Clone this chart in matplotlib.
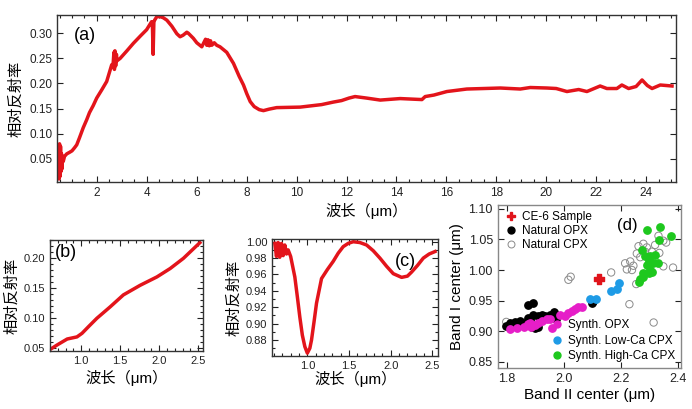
import numpy as np
import matplotlib
matplotlib.use('Agg')
import matplotlib.pyplot as plt
from matplotlib.ticker import MultipleLocator, FormatStrFormatter
from matplotlib.lines import Line2D

plt.rcParams['font.family'] = ['Liberation Sans', 'Noto Sans CJK SC', 'DejaVu Sans']
plt.rcParams['axes.unicode_minus'] = False

RED = '#e3141b'

# (a) 全波段光谱
wave_a = [0.42, 0.45, 0.48, 0.50, 0.52, 0.54, 0.56, 0.58, 0.60, 0.62, 0.65, 0.70, 0.79, 0.90, 1.00, 1.10,
          1.19, 1.30, 1.45, 1.59, 1.70, 1.85, 1.99, 2.20, 2.39, 2.59, 2.65, 2.68, 2.70, 2.72, 2.75,
          2.78, 2.80, 2.93, 3.20, 3.46, 3.75, 3.99,
          4.19, 4.22, 4.25, 4.28, 4.31, 4.40, 4.53, 4.65, 4.80, 5.00, 5.20, 5.33, 5.45, 5.60, 5.66,
          5.80, 5.86, 6.00, 6.20, 6.35, 6.40, 6.45, 6.50, 6.55, 6.60, 6.70, 6.80, 6.93, 7.20,
          7.47, 7.70, 7.87, 8.00, 8.14, 8.30, 8.50, 8.67, 8.90, 9.20, 10.14,
          11.00, 11.47, 11.80, 12.10, 12.34, 12.80, 13.35, 14.15, 15.02, 15.15, 15.50, 16.02, 16.82,
          17.50, 18.16, 18.96, 19.36, 20.03, 20.40, 20.83, 21.30, 21.63, 22.16, 22.43, 22.83, 23.03,
          23.30, 23.60, 23.84, 24.05, 24.24, 24.57, 25.04]
refl_a = [0.020, 0.060, 0.010, 0.080, 0.015, 0.075, 0.025, 0.060, 0.030, 0.055, 0.045, 0.055, 0.060, 0.063, 0.066, 0.072,
          0.078, 0.092, 0.112, 0.128, 0.142, 0.156, 0.171, 0.188, 0.204, 0.237, 0.240, 0.262, 0.228, 0.265, 0.235,
          0.258, 0.245, 0.250, 0.265, 0.280, 0.295, 0.307,
          0.323, 0.320, 0.258, 0.322, 0.326, 0.333, 0.333, 0.331, 0.326, 0.314, 0.299, 0.293, 0.296, 0.302, 0.300,
          0.293, 0.290, 0.281, 0.273, 0.288, 0.276, 0.287, 0.275, 0.285, 0.276, 0.281, 0.276, 0.273, 0.262,
          0.240, 0.214, 0.197, 0.180, 0.164, 0.154, 0.148, 0.146, 0.149, 0.152, 0.153,
          0.158, 0.163, 0.166, 0.171, 0.174, 0.171, 0.167, 0.170, 0.168, 0.174, 0.177, 0.184, 0.189,
          0.190, 0.191, 0.189, 0.192, 0.191, 0.190, 0.184, 0.188, 0.184, 0.195, 0.190, 0.190, 0.197,
          0.190, 0.194, 0.207, 0.196, 0.190, 0.197, 0.195]

# (b) 可见-近红外光谱
wave_b = [0.60, 0.69, 0.82, 0.945, 1.01, 1.10, 1.20, 1.37, 1.54, 1.755, 1.97, 2.14, 2.31, 2.52]
refl_b = [0.048, 0.0555, 0.0655, 0.069, 0.075, 0.087, 0.100, 0.119, 0.139, 0.155, 0.169, 0.183, 0.200, 0.226]

# (c) 去连续统光谱
wave_c = [0.61, 0.63, 0.65, 0.67, 0.69, 0.71, 0.73, 0.75, 0.77, 0.80, 0.85, 0.88, 0.91, 0.94, 0.97, 1.00,
          1.03, 1.05, 1.08, 1.11, 1.17, 1.24, 1.31, 1.37, 1.43, 1.49, 1.55, 1.63, 1.71, 1.79, 1.87,
          1.95, 2.03, 2.13, 2.20, 2.25, 2.32, 2.39, 2.46, 2.53]
refl_c = [0.998, 0.982, 0.999, 0.981, 0.998, 0.983, 0.996, 0.985, 0.990, 0.982, 0.957, 0.933, 0.908, 0.886, 0.872, 0.864,
          0.870, 0.880, 0.902, 0.925, 0.955, 0.966, 0.976, 0.986, 0.994, 0.998, 1.000, 0.999, 0.996, 0.989, 0.980,
          0.970, 0.961, 0.9565, 0.958, 0.963, 0.971, 0.980, 0.985, 0.988]

# (d) Band I / Band II center
ce6_x = [2.122]
ce6_y = [0.986]
nopx_x = [1.798, 1.812, 1.823, 1.829, 1.835, 1.847, 1.858, 1.876, 1.876, 1.880, 1.888, 1.891, 1.893,
          1.899, 1.908, 1.911, 1.923, 1.935, 1.946, 1.952, 1.964, 1.971, 2.098, 2.102]
nopx_y = [0.909, 0.913, 0.911, 0.915, 0.909, 0.917, 0.914, 0.922, 0.942, 0.918, 0.907, 0.946, 0.926,
          0.905, 0.925, 0.906, 0.927, 0.925, 0.923, 0.926, 0.932, 0.920, 0.946, 0.949]
ncpx_x = [1.798, 2.016, 2.024, 2.166, 2.215, 2.233, 2.221, 2.239, 2.244, 2.262, 2.279, 2.291, 2.309,
          2.320, 2.332, 2.349, 2.359, 2.285, 2.256, 2.268, 2.335, 2.349, 2.254, 2.230, 2.315, 2.383]
ncpx_y = [0.915, 0.984, 0.989, 0.996, 1.011, 1.014, 1.001, 1.000, 1.007, 1.039, 1.043, 1.037, 1.030,
          1.041, 1.056, 1.048, 1.045, 1.030, 1.027, 1.021, 1.028, 1.006, 0.977, 0.944, 0.914, 1.004]
sopx_x = [1.812, 1.835, 1.861, 1.873, 1.882, 1.885, 1.899, 1.911, 1.923, 1.940, 1.952, 1.960,
          1.987, 2.005, 2.016, 2.028, 2.040, 2.051, 2.063]
sopx_y = [0.903, 0.905, 0.907, 0.911, 0.913, 0.906, 0.910, 0.913, 0.917, 0.920, 0.920, 0.905,
          0.926, 0.925, 0.929, 0.933, 0.936, 0.940, 0.940]
slow_x = [2.092, 2.113, 2.165, 2.188, 2.195]
slow_y = [0.953, 0.952, 0.965, 0.969, 0.979]
shigh_x = [2.291, 2.338, 2.375, 2.335, 2.274, 2.285, 2.303, 2.320, 2.297, 2.314, 2.332, 2.291,
           2.303, 2.279, 2.297, 2.309, 2.268, 2.279, 2.262]
shigh_y = [1.066, 1.070, 1.056, 1.049, 1.032, 1.023, 1.023, 1.025, 1.014, 1.011, 1.011, 1.008,
           1.000, 0.995, 0.995, 0.996, 0.985, 0.988, 0.981]

ylabel_cn = '相对反射率'
xlabel_cn = '波长（μm）'

fig = plt.figure(figsize=(6.92, 4.09), dpi=100)


def style(ax, tick_size=8):
    ax.tick_params(which='both', direction='in', top=True, right=True,
                   labelsize=tick_size, colors='#222222', width=0.8)
    ax.tick_params(which='major', length=4)
    ax.tick_params(which='minor', length=2)
    for s in ax.spines.values():
        s.set_linewidth(1.0)
        s.set_color('#333333')


# (a)
ax_a = fig.add_axes([0.0824, 0.555, 0.8945, 0.408])
ax_a.plot(wave_a, refl_a, color=RED, lw=2.5, solid_joinstyle='round')
ax_a.set_xlim(0.4, 25.2)
ax_a.set_ylim(0.004, 0.336)
ax_a.xaxis.set_major_locator(MultipleLocator(2))
ax_a.xaxis.set_minor_locator(MultipleLocator(0.5))
ax_a.yaxis.set_major_locator(MultipleLocator(0.05))
ax_a.yaxis.set_major_formatter(FormatStrFormatter('%.2f'))
style(ax_a, tick_size=8.5)
ax_a.set_xlabel(xlabel_cn, fontsize=11, labelpad=3)
ax_a.set_ylabel(ylabel_cn, fontsize=11, labelpad=4)
ax_a.text(0.027, 0.93, '(a)', transform=ax_a.transAxes, fontsize=13, va='top')

# (b)
ax_b = fig.add_axes([0.0723, 0.1418, 0.221, 0.2714])
ax_b.plot(wave_b, refl_b, color=RED, lw=2.5)
ax_b.set_xlim(0.60, 2.56)
ax_b.set_ylim(0.0455, 0.2305)
ax_b.xaxis.set_major_locator(MultipleLocator(0.5))
ax_b.xaxis.set_minor_locator(MultipleLocator(0.1))
ax_b.yaxis.set_major_locator(MultipleLocator(0.05))
ax_b.yaxis.set_minor_locator(MultipleLocator(0.01))
ax_b.yaxis.set_major_formatter(FormatStrFormatter('%.2f'))
style(ax_b)
ax_b.set_xlabel(xlabel_cn, fontsize=11, labelpad=3)
ax_b.set_ylabel(ylabel_cn, fontsize=11, labelpad=3)
ax_b.text(0.03, 0.96, '(b)', transform=ax_b.transAxes, fontsize=13, va='top')

# (c)
ax_c = fig.add_axes([0.3935, 0.1296, 0.2399, 0.286])
ax_c.plot(wave_c, refl_c, color=RED, lw=2.5)
ax_c.set_xlim(0.58, 2.57)
ax_c.set_ylim(0.8605, 1.0033)
ax_c.xaxis.set_major_locator(MultipleLocator(0.5))
ax_c.xaxis.set_minor_locator(MultipleLocator(0.1))
ax_c.yaxis.set_major_locator(MultipleLocator(0.02))
ax_c.yaxis.set_minor_locator(MultipleLocator(0.01))
ax_c.yaxis.set_major_formatter(FormatStrFormatter('%.2f'))
style(ax_c)
ax_c.set_xlabel(xlabel_cn, fontsize=11, labelpad=0)
ax_c.set_ylabel(ylabel_cn, fontsize=11, labelpad=3)
ax_c.text(0.74, 0.88, '(c)', transform=ax_c.transAxes, fontsize=13, va='top')

# (d)
ax_d = fig.add_axes([0.7192, 0.0995, 0.2645, 0.3993])
ms = 28
ax_d.scatter(ncpx_x, ncpx_y, s=ms, facecolors='none', edgecolors='#8a8a8a', linewidths=0.7, zorder=2)
ax_d.scatter(nopx_x, nopx_y, s=ms, color='black', zorder=3)
ax_d.scatter(sopx_x, sopx_y, s=ms, color='#e61ec8', zorder=3)
ax_d.scatter(slow_x, slow_y, s=ms, color='#1e9be6', zorder=3)
ax_d.scatter(shigh_x, shigh_y, s=ms, color='#1ec81e', zorder=3)
ax_d.scatter(ce6_x, ce6_y, s=55, marker='P', color='#e0141b', zorder=4)
ax_d.set_xlim(1.768, 2.41)
ax_d.set_ylim(0.839, 1.1065)
ax_d.xaxis.set_major_locator(MultipleLocator(0.2))
ax_d.yaxis.set_major_locator(MultipleLocator(0.05))
ax_d.yaxis.set_major_formatter(FormatStrFormatter('%.2f'))
style(ax_d, tick_size=9)
for s in ax_d.spines.values():
    s.set_color('#888888')
ax_d.set_xlabel('Band II center (μm)', fontsize=11, labelpad=2)
ax_d.set_ylabel('Band I center (μm)', fontsize=11, labelpad=3)
ax_d.text(0.65, 0.92, '(d)', transform=ax_d.transAxes, fontsize=12, va='top')

h1 = [Line2D([], [], marker='P', ls='', color='#e0141b', ms=6),
      Line2D([], [], marker='o', ls='', color='black', ms=5),
      Line2D([], [], marker='o', ls='', mfc='none', mec='#8a8a8a', ms=5, mew=0.7)]
leg1 = ax_d.legend(h1, ['CE-6 Sample', 'Natural OPX', 'Natural CPX'], loc='upper left',
                   fontsize=8.5, frameon=False, handletextpad=0.3, borderaxespad=0.15,
                   labelspacing=0.15, handlelength=1.2)
ax_d.add_artist(leg1)
h2 = [Line2D([], [], marker='o', ls='', color='#e61ec8', ms=5),
      Line2D([], [], marker='o', ls='', color='#1e9be6', ms=5),
      Line2D([], [], marker='o', ls='', color='#1ec81e', ms=5)]
ax_d.legend(h2, ['Synth. OPX', 'Synth. Low-Ca CPX', 'Synth. High-Ca CPX'], loc='lower right',
            fontsize=8.5, frameon=False, handletextpad=0.3, borderaxespad=0.1,
            labelspacing=0.3, handlelength=1.2)

fig.savefig('out.png', dpi=100)
